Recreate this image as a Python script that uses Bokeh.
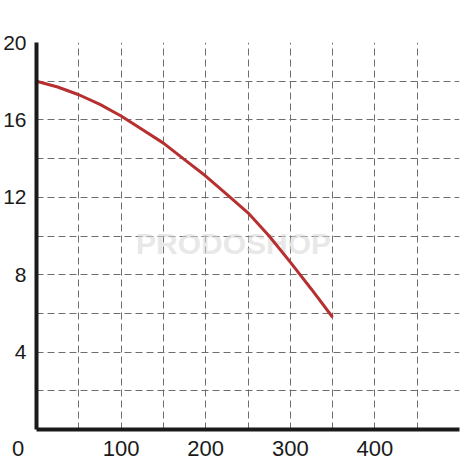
from bokeh.plotting import figure
from bokeh.models import FixedTicker, Range1d
from bokeh.core.properties import value
from bokeh.embed import file_html
from bokeh.resources import INLINE

# data
flow = [0, 25, 50, 75, 100, 125, 150, 175, 200, 225, 250, 275, 300, 325, 350]
head = [18.0, 17.7, 17.3, 16.8, 16.2, 15.5, 14.8, 13.95, 13.1, 12.15, 11.2, 10.0, 8.65, 7.25, 5.8]
x_ticks = [0, 100, 200, 300, 400]
x_labels = {0: "0" + "\u00a0" * 6}
y_ticks = [4, 8, 12, 16, 20]
x_grid = [50, 100, 150, 200, 250, 300, 350, 400, 450]
y_grid = [2, 4, 6, 8, 10, 12, 14, 16, 18]

p = figure(frame_width=423, frame_height=387, output_backend="svg", toolbar_location=None,
           x_range=Range1d(0, 500), y_range=Range1d(0, 20),
           min_border_left=34, min_border_right=2, min_border_top=42, min_border_bottom=30)
p.outline_line_color = None
p.background_fill_color = "white"

# watermark
p.text(x=[233], y=[9.6], text=["PRODOSHOP"], text_font=value("Liberation Sans"),
       text_font_size="30px", text_font_style="bold", text_color="#d9d9d9", text_alpha=0.6,
       text_align="center", text_baseline="middle")

p.line(flow, head, line_color="#b5302f", line_width=3)

for ax in (p.xaxis[0], p.yaxis[0]):
    ax.axis_line_width = 4
    ax.axis_line_color = "#1a1a1a"
    ax.major_tick_line_color = None
    ax.minor_tick_line_color = None
    ax.major_label_text_font = "Liberation Sans"
    ax.major_label_text_color = "#1a1a1a"
p.xaxis[0].major_label_text_font_size = "22px"
p.yaxis[0].major_label_text_font_size = "21px"
p.xaxis[0].ticker = FixedTicker(ticks=x_ticks)
p.xaxis[0].major_label_overrides = x_labels
p.yaxis[0].ticker = FixedTicker(ticks=y_ticks)
p.xaxis[0].major_label_standoff = 0
p.yaxis[0].major_label_standoff = 4

p.xgrid[0].ticker = FixedTicker(ticks=x_grid)
p.ygrid[0].ticker = FixedTicker(ticks=y_grid)
for g in (p.xgrid[0], p.ygrid[0]):
    g.grid_line_color = "#6e6e6e"
    g.grid_line_dash = "7 4"
    g.grid_line_width = 1

open("out.html", "w").write(file_html(p, INLINE))
